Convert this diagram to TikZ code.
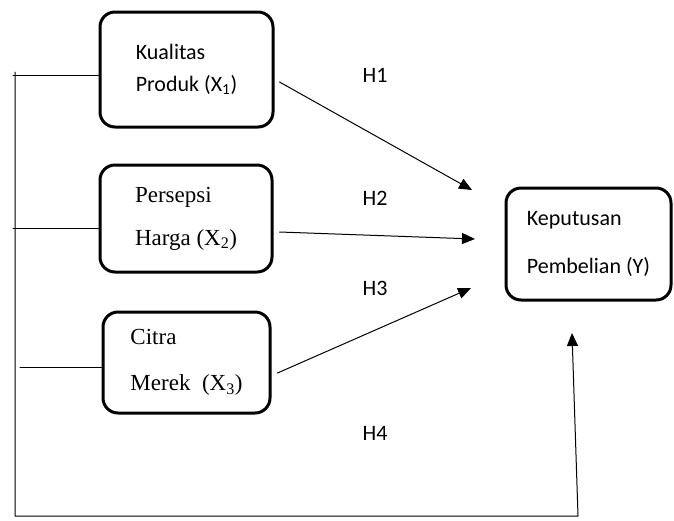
\documentclass[tikz,border=0pt]{standalone}
\usepackage{fontspec}
\setmainfont{Carlito}
\newfontfamily\timesfont{Liberation Serif}
\usetikzlibrary{arrows.meta}
\begin{document}
\begin{tikzpicture}[x=1pt, y=-1pt, line join=round, line cap=round, >={Triangle[length=13pt,width=11pt]},
	box/.style={draw, line width=3pt, rounded corners=15pt, align=left, inner sep=0pt, font=\fontsize{22}{27}\selectfont},
	serif/.style={font=\fontsize{23}{27}\timesfont},
	hlabel/.style={font=\fontsize{22}{27}\selectfont}]
	\useasboundingbox (0,0) rectangle (674,520);
	\path
	(15,72) coordinate (top)
	(15,516) coordinate (bend)
	(578,516) coordinate (bend')
	(572,333) coordinate (t4)
	(13,75) coordinate (b1)
	(13,228) coordinate (b2)
	(20,367) coordinate (b3)
	(472,190) coordinate (t1)
	(475,239) coordinate (t2)
	(471,288) coordinate (t3)
	;
	\node[box, minimum width=173pt, minimum height=115pt] (X1) at (186.5,69.5) {Kualitas\\[5pt]Produk (X\textsubscript{1})};
	\node[box, serif, minimum width=172pt, minimum height=107pt] (X2) at (186,218.5) {Persepsi\\[16pt]Harga (X\textsubscript{2})};
	\node[box, serif, minimum width=167pt, minimum height=101pt] (X3) at (186.5,362.5) {Citra\\[19pt]Merek\ \ (X\textsubscript{3})};
	\node[box, minimum width=165pt, minimum height=112pt] (Y) at (588.5,244) {Keputusan\\[21pt]Pembelian (Y)};
	\node[hlabel] (h1) at (375,75) {H1};
	\node[hlabel] (h2) at (375,198) {H2};
	\node[hlabel] (h3) at (375,288) {H3};
	\node[hlabel] (h4) at (375,433) {H4};
	\draw[line width=1pt] (b1) -- (b1 -| X1.west) (b2) -- (b2 -| X2.west) (b3) -- (b3 -| X3.west);
	\draw[line width=1pt, ->] (top) -- (bend) -- (bend') -- (t4);
	\draw[line width=1pt, ->] ([shift={(5,12.5)}]X1.east) -- (t1);
	\draw[line width=1pt, ->] ([shift={(6,13.5)}]X2.east) -- (t2);
	\draw[line width=1pt, ->] ([shift={(6,10.5)}]X3.east) -- (t3);
\end{tikzpicture}
\end{document}
